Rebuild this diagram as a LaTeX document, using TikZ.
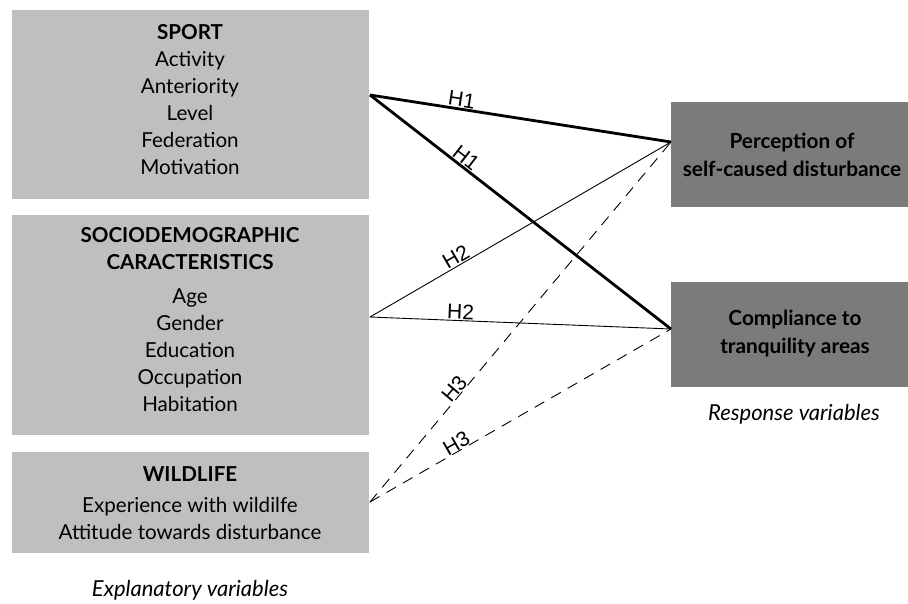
\documentclass[tikz,border=0pt]{standalone}
\usepackage{fontspec}
\setmainfont{Lato}
\newfontfamily\hfont{Liberation Sans}
\definecolor{lgray}{HTML}{BFBFBF}
\definecolor{dgray}{HTML}{7B7B7B}
\begin{document}
\begin{tikzpicture}[x=1pt,y=-1pt,
  lbox/.style={fill=lgray,draw=none,inner sep=0,anchor=north west,minimum width=357pt},
  rbox/.style={fill=dgray,draw=none,inner sep=0,anchor=north west,minimum width=240pt,minimum height=105pt},
  btext/.style={align=center,font=\fontsize{20.6}{27}\selectfont,inner sep=0},
  rtext/.style={align=center,font=\fontsize{20.8}{28}\selectfont\bfseries,inner sep=0},
  captxt/.style={font=\fontsize{22}{26}\selectfont\itshape,inner sep=0},
  hlab/.style={font=\hfont\fontsize{21}{24}\selectfont,sloped,above,inner sep=1pt,pos=0.3},
  thick1/.style={line width=2.8pt},
  thin1/.style={line width=0.9pt},
  dash1/.style={line width=0.9pt,dash pattern=on 11pt off 8pt}]
\useasboundingbox (0,0) rectangle (908,603);
\fill[white] (0,0) rectangle (908,603);

\node[lbox,minimum height=189pt] (sport) at (12,10) {};
\node[lbox,minimum height=220pt] (socio) at (12,215) {};
\node[lbox,minimum height=101pt] (wild) at (12,452) {};
\node[rbox] (perc) at (671,102) {};
\node[rbox] (comp) at (671,282) {};

\node[btext] (sporttxt) at (190,100) {\textbf{SPORT}\\Activity\\Anteriority\\Level\\Federation\\Motivation};
\node[btext] (sociotxt) at (190,320) {\textbf{SOCIODEMOGRAPHIC}\\\textbf{CARACTERISTICS}\\[7pt]Age\\Gender\\Education\\Occupation\\Habitation};
\node[btext] (wildtxt) at (190,503) {\textbf{WILDLIFE}\\[4pt]Experience with wildilfe\\Attitude towards disturbance};
\node[rtext] (perctxt) at (792,155) {Perception of\\self-caused disturbance};
\node[rtext] (comptxt) at (795,334) {Compliance to\\tranquility areas};

\node[captxt] (resp) at (794,414) {Response variables};
\node[captxt] (expl) at (190,590) {Explanatory variables};

\coordinate (sO) at (370,95);
\coordinate (dO) at (370,317);
\coordinate (wO) at (370,502);
\coordinate (pI) at (671,142);
\coordinate (cI) at (671,329);

\draw[thick1] (sO) -- node[hlab] {H1} (pI);
\draw[thick1] (sO) -- node[hlab] {H1} (cI);
\draw[thin1] (dO) -- node[hlab] {H2} (pI);
\draw[thin1] (dO) -- node[hlab] {H2} (cI);
\draw[dash1] (wO) -- node[hlab,inner sep=0pt] {H3} (pI);
\draw[dash1] (wO) -- node[hlab,inner sep=0pt] {H3} (cI);
\end{tikzpicture}
\end{document}
